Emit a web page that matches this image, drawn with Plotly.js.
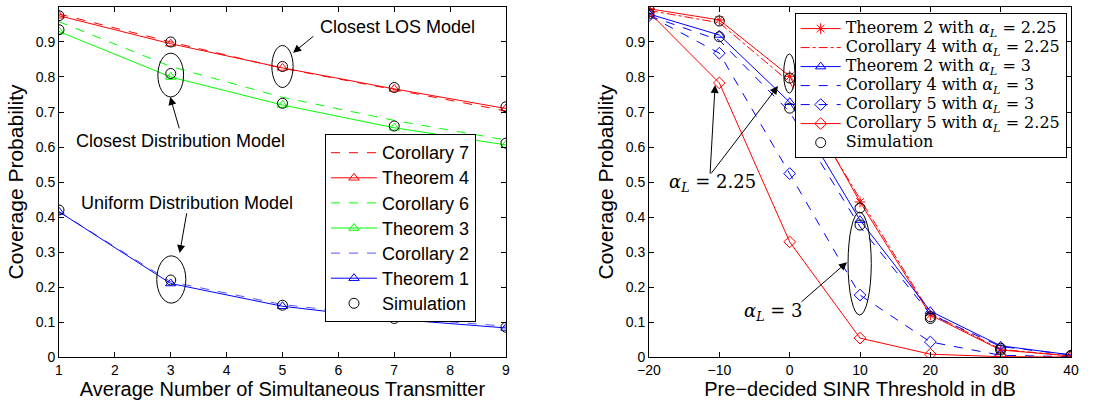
<!DOCTYPE html>
<html>
<head>
<meta charset="utf-8">
<script src="https://cdn.plot.ly/plotly-3.0.1.min.js"></script>
<style>html,body{margin:0;padding:0;background:#fff;}#chart{width:1113px;height:409px;}</style>
</head>
<body>
<div id="chart"></div>
<script>
// ---------- Left panel data ----------
const nTx = [1, 3, 5, 7, 9];
const cor7 = [0.980, 0.900, 0.825, 0.763, 0.703];
const thm4 = [0.975, 0.895, 0.826, 0.766, 0.710];
const cor6 = [0.958, 0.830, 0.742, 0.676, 0.620];
const thm3 = [0.930, 0.800, 0.720, 0.655, 0.606];
const cor2 = [0.415, 0.215, 0.150, 0.113, 0.088];
const thm1 = [0.415, 0.210, 0.145, 0.108, 0.083];
const simLOS  = [0.975, 0.900, 0.830, 0.770, 0.715];
const simDist = [0.935, 0.810, 0.725, 0.660, 0.611];
const simUni  = [0.420, 0.220, 0.148, 0.110, 0.085];

// ---------- Right panel data ----------
const sinr = [-20, -10, 0, 10, 20, 30, 40];
const thm2a225 = [0.995, 0.963, 0.802, 0.443, 0.120, 0.020, 0.003];
const cor4a225 = [0.990, 0.955, 0.785, 0.452, 0.125, 0.022, 0.003];
const thm2a3   = [0.980, 0.920, 0.728, 0.391, 0.131, 0.032, 0.006];
const cor4a3   = [0.975, 0.905, 0.700, 0.372, 0.122, 0.030, 0.006];
const cor5a3   = [0.975, 0.868, 0.524, 0.177, 0.043, 0.005, 0.001];
const cor5a225 = [0.985, 0.783, 0.329, 0.054, 0.008, 0.001, 0.000];
const sim225   = [0.995, 0.960, 0.797, 0.426, 0.115, 0.020, 0.003];
const sim3     = [0.980, 0.915, 0.711, 0.377, 0.110, 0.025, 0.005];

const RED = '#ff0000', GREEN = '#00ff00', BLUE = '#0000ff';
const SANS = 'Liberation Sans, Arial, sans-serif';
const SERIF = 'DejaVu Serif, Liberation Serif, serif';

const L = s => '<span style="font-size:18px">' + s + '</span>';
const R = s => '<span style="font-size:16px">' + s + '</span>';
const AL = '<i>α</i><sub><i>L</i></sub>&nbsp;=&nbsp;';

function line(x, y, name, color, dash, sym, leg, xa, ya, grp) {
  const t = {x: x, y: y, name: name, type: 'scatter',
    mode: sym ? 'lines+markers' : 'lines',
    line: {color: color, width: 1, dash: dash},
    xaxis: xa, yaxis: ya, legend: leg, legendgroup: grp};
  if (sym) t.marker = {symbol: sym, size: 9, color: color, line: {color: color, width: 1}};
  return t;
}

const traces = [
  line(nTx, cor7, L('Corollary 7'), RED, 'dash', null, 'legend', 'x', 'y', 'a1'),
  line(nTx, thm4, L('Theorem 4'), RED, 'solid', 'triangle-up-open', 'legend', 'x', 'y', 'a2'),
  line(nTx, cor6, L('Corollary 6'), GREEN, 'dash', null, 'legend', 'x', 'y', 'a3'),
  line(nTx, thm3, L('Theorem 3'), GREEN, 'solid', 'triangle-up-open', 'legend', 'x', 'y', 'a4'),
  line(nTx, cor2, L('Corollary 2'), '#5555ff', 'dash', null, 'legend', 'x', 'y', 'a5'),
  line(nTx, thm1, L('Theorem 1'), BLUE, 'solid', 'triangle-up-open', 'legend', 'x', 'y', 'a6'),
  {x: nTx.concat(nTx, nTx), y: simLOS.concat(simDist, simUni), name: L('Simulation'),
   type: 'scatter', mode: 'markers', xaxis: 'x', yaxis: 'y', legend: 'legend', legendgroup: 'a7',
   marker: {symbol: 'circle-open', size: 10, color: '#000', line: {color: '#000', width: 1}}},

  line(sinr, thm2a225, R('Theorem 2 with ' + AL + '2.25'), RED, 'solid', 'asterisk-open', 'legend2', 'x2', 'y2', 'b1'),
  line(sinr, cor4a225, R('Corollary 4 with ' + AL + '2.25'), RED, 'dashdot', null, 'legend2', 'x2', 'y2', 'b2'),
  line(sinr, thm2a3, R('Theorem 2 with ' + AL + '3'), BLUE, 'solid', 'triangle-up-open', 'legend2', 'x2', 'y2', 'b3'),
  line(sinr, cor4a3, R('Corollary 4 with ' + AL + '3'), BLUE, 'dash', null, 'legend2', 'x2', 'y2', 'b4'),
  line(sinr, cor5a3, R('Corollary 5 with ' + AL + '3'), BLUE, 'dash', 'diamond-open', 'legend2', 'x2', 'y2', 'b5'),
  line(sinr, cor5a225, R('Corollary 5 with ' + AL + '2.25'), RED, 'solid', 'diamond-open', 'legend2', 'x2', 'y2', 'b6'),
  {x: sinr.concat(sinr), y: sim225.concat(sim3), name: R('Simulation'),
   type: 'scatter', mode: 'markers', xaxis: 'x2', yaxis: 'y2', legend: 'legend2', legendgroup: 'b7',
   marker: {symbol: 'circle-open', size: 10, color: '#000', line: {color: '#000', width: 1}}}
];

const axBase = {showgrid: false, zeroline: false, showline: true, linecolor: '#000', linewidth: 1,
  mirror: 'ticks', ticks: 'inside', ticklen: 5, tickcolor: '#000',
  tickfont: {family: SANS, size: 14, color: '#000'}};

const yTicks = [0, 0.1, 0.2, 0.3, 0.4, 0.5, 0.6, 0.7, 0.8, 0.9, 1];
const TF = {family: SANS, size: 20, color: '#000'};
const TFY = {family: SANS, size: 21, color: '#000'};

const layout = {
  width: 1113, height: 409,
  margin: {l: 0, r: 0, t: 0, b: 0},
  paper_bgcolor: '#fff', plot_bgcolor: '#fff',
  showlegend: true,
  xaxis: Object.assign({}, axBase, {domain: [0.0530, 0.4546], range: [1, 9], tickvals: [1,2,3,4,5,6,7,8,9],
    title: {text: 'Average Number of Simultaneous Transmitter', font: TF, standoff: 5}}),
  yaxis: Object.assign({}, axBase, {domain: [0.1271, 0.9829], range: [0, 1], tickvals: yTicks,
    title: {text: 'Coverage Probability', font: TFY, standoff: 6}}),
  xaxis2: Object.assign({}, axBase, {anchor: 'y2', domain: [0.5831, 0.9623], range: [-20, 40], tickvals: [-20,-10,0,10,20,30,40],
    title: {text: 'Pre\u2212decided SINR Threshold in dB', font: TF, standoff: 5}}),
  yaxis2: Object.assign({}, axBase, {anchor: 'x2', domain: [0.1271, 0.9829], range: [0, 1], tickvals: yTicks,
    title: {text: 'Coverage Probability', font: TFY, standoff: 6}}),
  legend: {x: 0.292, y: 0.672, xanchor: 'left', yanchor: 'top', bgcolor: '#fff', bordercolor: '#000', borderwidth: 1,
    font: {family: SANS, size: 17, color: '#000'}, tracegroupgap: 0, traceorder: 'grouped', itemwidth: 46},
  legend2: {x: 0.714, y: 0.968, xanchor: 'left', yanchor: 'top', bgcolor: '#fff', bordercolor: '#000', borderwidth: 1,
    font: {family: SERIF, size: 12, color: '#000'}, tracegroupgap: 0, traceorder: 'grouped', itemwidth: 40},
  shapes: [
    {type: 'circle', xref: 'x', yref: 'y', x0: 4.81, x1: 5.19, y0: 0.77, y1: 0.89, line: {color: '#000', width: 1}},
    {type: 'circle', xref: 'x', yref: 'y', x0: 2.77, x1: 3.23, y0: 0.743, y1: 0.868, line: {color: '#000', width: 1}},
    {type: 'circle', xref: 'x', yref: 'y', x0: 2.75, x1: 3.27, y0: 0.154, y1: 0.289, line: {color: '#000', width: 1}},
    {type: 'circle', xref: 'x2', yref: 'y2', x0: -0.85, x1: 0.75, y0: 0.754, y1: 0.866, line: {color: '#000', width: 1}},
    {type: 'circle', xref: 'x2', yref: 'y2', x0: 8.3, x1: 11.6, y0: 0.12, y1: 0.414, line: {color: '#000', width: 1}}
  ],
  annotations: [
    {xref: 'x', yref: 'y', x: 7.05, y: 0.943, text: 'Closest LOS Model', showarrow: false, font: {family: SANS, size: 18, color: '#000'}},
    {xref: 'x', yref: 'y', x: 3.18, y: 0.617, text: 'Closest Distribution Model', showarrow: false, font: {family: SANS, size: 18, color: '#000'}},
    {xref: 'x', yref: 'y', x: 3.29, y: 0.44, text: 'Uniform Distribution Model', showarrow: false, font: {family: SANS, size: 18, color: '#000'}},
    {xref: 'x', yref: 'y', axref: 'x', ayref: 'y', x: 5.19, y: 0.869, ax: 5.58, ay: 0.92, text: '', showarrow: true, arrowhead: 2, arrowsize: 1.6, arrowwidth: 1, arrowcolor: '#000'},
    {xref: 'x', yref: 'y', axref: 'x', ayref: 'y', x: 2.99, y: 0.743, ax: 3.16, ay: 0.649, text: '', showarrow: true, arrowhead: 2, arrowsize: 1.6, arrowwidth: 1, arrowcolor: '#000'},
    {xref: 'x', yref: 'y', axref: 'x', ayref: 'y', x: 3.16, y: 0.297, ax: 3.29, ay: 0.415, text: '', showarrow: true, arrowhead: 2, arrowsize: 1.6, arrowwidth: 1, arrowcolor: '#000'},
    {xref: 'x2', yref: 'y2', x: -11.0, y: 0.497, text: AL + '2.25', showarrow: false, font: {family: SERIF, size: 18, color: '#000'}},
    {xref: 'x2', yref: 'y2', x: -2.37, y: 0.129, text: AL + '3', showarrow: false, font: {family: SERIF, size: 18, color: '#000'}},
    {xref: 'x2', yref: 'y2', axref: 'x2', ayref: 'y2', x: -10.6, y: 0.777, ax: -11.33, ay: 0.52, text: '', showarrow: true, arrowhead: 2, arrowsize: 1.6, arrowwidth: 1, arrowcolor: '#000'},
    {xref: 'x2', yref: 'y2', axref: 'x2', ayref: 'y2', x: -1.66, y: 0.774, ax: -11.33, ay: 0.52, text: '', showarrow: true, arrowhead: 2, arrowsize: 1.6, arrowwidth: 1, arrowcolor: '#000'},
    {xref: 'x2', yref: 'y2', axref: 'x2', ayref: 'y2', x: 8.15, y: 0.271, ax: 1.47, ay: 0.154, text: '', showarrow: true, arrowhead: 2, arrowsize: 1.6, arrowwidth: 1, arrowcolor: '#000'}
  ]
};

Plotly.newPlot('chart', traces, layout, {staticPlot: true, displayModeBar: false});
</script>
</body>
</html>
